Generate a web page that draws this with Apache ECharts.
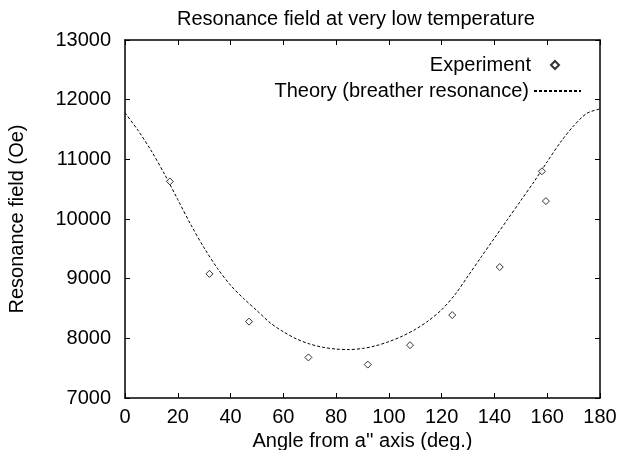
<!DOCTYPE html>
<html>
<head>
<meta charset="utf-8">
<script src="https://cdn.jsdelivr.net/npm/echarts@6/dist/echarts.min.js"></script>
<style>
  html, body { margin: 0; padding: 0; background: #fff; }
  #chart { width: 621px; height: 450px; }
</style>
</head>
<body>
<div id="chart"></div>
<script>
// measured points (angle in deg, field in Oe)
const expAngle = [17, 32, 47, 69.5, 92, 108, 124, 142, 158, 159.5]
const expField = [10630, 9080, 8280, 7680, 7560, 7885, 8390, 9195, 10800, 10300]

// theory curve
const theoryAngle = [0, 5, 10, 15, 20, 25, 30, 35, 40, 45, 50, 55, 60, 65, 70, 75, 80, 85, 90,
  95, 100, 105, 110, 115, 120, 125, 130, 135, 140, 145, 150, 155, 160, 165, 170, 175, 180]
const theoryField = [11780, 11480, 11140, 10750, 10325, 9900, 9515, 9175, 8890, 8665, 8465, 8260, 8110, 7990, 7905, 7850, 7820, 7812, 7830,
  7875, 7945, 8035, 8150, 8295, 8480, 8730, 9045, 9365, 9680, 9995, 10310, 10625, 10960, 11285, 11560, 11770, 11845]

const xTicks = [0, 180, 20]
const yTicks = [7000, 13000, 1000]

const font = 'Liberation Sans, Arial, Helvetica, sans-serif'
const fs = 20

const chart = echarts.init(document.getElementById('chart'), null, { renderer: 'canvas' })

const pair = (xs, ys) => xs.map((x, i) => [x, ys[i]])

function axisBase(extra) {
  return Object.assign({
    type: 'value',
    splitLine: { show: false },
    axisLine: { show: true, onZero: false, lineStyle: { color: '#000', width: 1.5 } },
    axisTick: { show: true, inside: true, length: 5, lineStyle: { color: '#000', width: 1 } },
    axisLabel: { show: false }
  }, extra)
}

chart.setOption({
  animation: false,
  backgroundColor: '#fff',
  textStyle: { fontFamily: font },
  title: {
    text: 'Resonance field at very low temperature',
    left: 356,
    textAlign: 'center',
    top: 9,
    padding: 0,
    textStyle: { fontFamily: font, fontSize: fs, fontWeight: 'normal', color: '#000' }
  },
  legend: [
    {
      data: ['Experiment'],
      right: 61,
      top: 55,
      padding: 0,
      align: 'right',
      itemWidth: 8,
      itemHeight: 8,
      textStyle: { fontFamily: font, fontSize: fs, color: '#000', padding: [0, 15, 0, 0] }
    },
    {
      data: [{ name: 'Theory (breather resonance)', itemStyle: { opacity: 0 } }],
      right: 39,
      top: 81,
      padding: 0,
      align: 'right',
      itemWidth: 47,
      itemHeight: 8,
      textStyle: { fontFamily: font, fontSize: fs, color: '#000' }
    }
  ],
  grid: { left: 125, right: 21, top: 40, bottom: 52, containLabel: false, outerBoundsMode: 'none' },
  xAxis: [
    axisBase({
      min: xTicks[0], max: xTicks[1], interval: xTicks[2],
      position: 'bottom',
      name: "Angle from a'' axis (deg.)",
      nameLocation: 'middle',
      nameGap: 31,
      nameTextStyle: { fontFamily: font, fontSize: fs, color: '#000' },
      axisLabel: { show: true, margin: 9, color: '#000', fontFamily: font, fontSize: fs }
    }),
    axisBase({ min: xTicks[0], max: xTicks[1], interval: xTicks[2], position: 'top' })
  ],
  yAxis: [
    axisBase({
      min: yTicks[0], max: yTicks[1], interval: yTicks[2],
      position: 'left',
      name: 'Resonance field (Oe)',
      nameLocation: 'middle',
      nameGap: 98,
      nameTextStyle: { fontFamily: font, fontSize: fs, color: '#000' },
      axisLabel: { show: true, margin: 14, color: '#000', fontFamily: font, fontSize: fs, formatter: v => String(v) }
    }),
    axisBase({ min: yTicks[0], max: yTicks[1], interval: yTicks[2], position: 'right' })
  ],
  series: [
    {
      name: 'Experiment',
      type: 'scatter',
      data: pair(expAngle, expField),
      symbol: 'diamond',
      symbolSize: 7,
      itemStyle: { color: '#fff', borderColor: '#000', borderWidth: 1 },
      z: 3
    },
    {
      name: 'Theory (breather resonance)',
      type: 'line',
      data: pair(theoryAngle, theoryField),
      smooth: 0.3,
      showSymbol: false,
      symbol: 'none',
      lineStyle: { color: '#000', width: 1, type: [3, 2] },
      itemStyle: { color: '#000' },
      z: 2
    }
  ]
})
</script>
</body>
</html>
